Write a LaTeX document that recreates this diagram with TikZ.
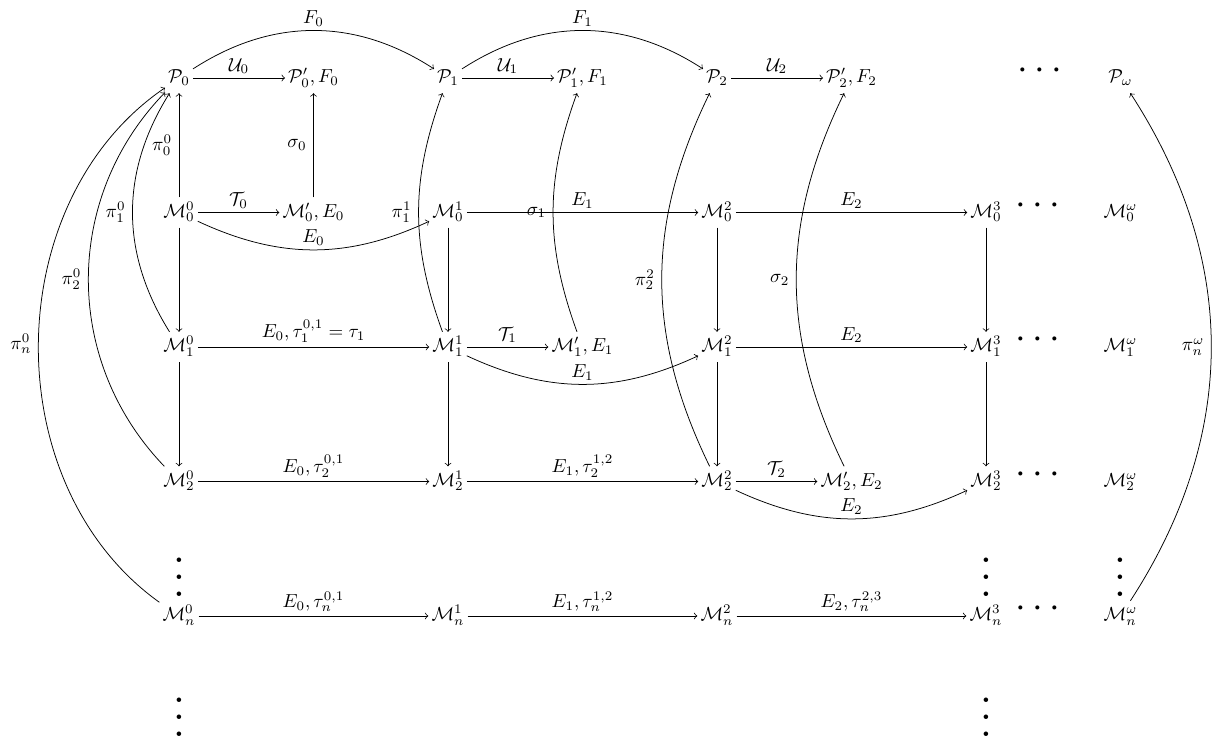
\documentclass[tikz,border=0pt]{standalone}
\usepackage{amsmath,amssymb}
\usepackage{graphicx}
\begin{document}
\begin{tikzpicture}[x=0.53pt,y=-0.53pt,
  obj/.style={inner xsep=1.5pt, inner ysep=3pt, text height=1.7ex, text depth=0.55ex},
  arr/.style={->, line width=0.4pt},
  lab/.style={inner sep=2pt},
  llab/.style={inner sep=3.5pt, left},
  hdots/.style={anchor=base, inner sep=0pt},
]
\useasboundingbox (0,0) rectangle (1225,742);
% row P
\node[obj] (P0)  at (179,78)    {$\mathcal{P}_0$};
\node[obj] (P0p) at (313.5,78)  {$\mathcal{P}'_0, F_0$};
\node[obj] (P1)  at (448,78)    {$\mathcal{P}_1$};
\node[obj] (P1p) at (582.5,78)  {$\mathcal{P}'_1, F_1$};
\node[obj] (P2)  at (717,78)    {$\mathcal{P}_2$};
\node[obj] (P2p) at (851.5,78)  {$\mathcal{P}'_2, F_2$};
\node[obj] (Pw)  at (1120.5,78) {$\mathcal{P}_\omega$};
% row M0
\node[obj] (M00) at (179,212.5)    {$\mathcal{M}^0_0$};
\node[obj] (M0p) at (313.5,212.5)  {$\mathcal{M}'_0, E_0$};
\node[obj] (M01) at (448,212.5)    {$\mathcal{M}^1_0$};
\node[obj] (M02) at (717,212.5)    {$\mathcal{M}^2_0$};
\node[obj] (M03) at (986,212.5)    {$\mathcal{M}^3_0$};
\node[obj] (M0w) at (1120.5,212.5) {$\mathcal{M}^\omega_0$};
% row M1
\node[obj] (M10) at (179,347)    {$\mathcal{M}^0_1$};
\node[obj] (M11) at (448,347)    {$\mathcal{M}^1_1$};
\node[obj] (M1p) at (582.5,347)  {$\mathcal{M}'_1, E_1$};
\node[obj] (M12) at (717,347)    {$\mathcal{M}^2_1$};
\node[obj] (M13) at (986,347)    {$\mathcal{M}^3_1$};
\node[obj] (M1w) at (1120.5,347) {$\mathcal{M}^\omega_1$};
% row M2
\node[obj] (M20) at (179,481.5)    {$\mathcal{M}^0_2$};
\node[obj] (M21) at (448,481.5)    {$\mathcal{M}^1_2$};
\node[obj] (M22) at (717,481.5)    {$\mathcal{M}^2_2$};
\node[obj] (M2p) at (851.5,481.5)  {$\mathcal{M}'_2, E_2$};
\node[obj] (M23) at (986,481.5)    {$\mathcal{M}^3_2$};
\node[obj] (M2w) at (1120.5,481.5) {$\mathcal{M}^\omega_2$};
% row Mn
\node[obj] (Mn0) at (179,616)    {$\mathcal{M}^0_n$};
\node[obj] (Mn1) at (448,616)    {$\mathcal{M}^1_n$};
\node[obj] (Mn2) at (717,616)    {$\mathcal{M}^2_n$};
\node[obj] (Mn3) at (986,616)    {$\mathcal{M}^3_n$};
\node[obj] (Mnw) at (1120.5,616) {$\mathcal{M}^\omega_n$};
% horizontal dots
\node[hdots] (dP) at (1043,79.5)  {\scalebox{2.03}{$\cdots$}};
\node[hdots] (d0) at (1041,214)   {\scalebox{2.03}{$\cdots$}};
\node[hdots] (d1) at (1041,348.5) {\scalebox{2.03}{$\cdots$}};
\node[hdots] (d2) at (1041,483)   {\scalebox{2.03}{$\cdots$}};
\node[hdots] (dn) at (1041,617.5) {\scalebox{2.03}{$\cdots$}};
% vertical dots
\node[hdots] (v0)  at (179,596.3)    {\scalebox{2.25}{$\vdots$}};
\node[hdots] (v3)  at (986,596.3)    {\scalebox{2.25}{$\vdots$}};
\node[hdots] (vw)  at (1120.5,596.3) {\scalebox{2.25}{$\vdots$}};
\node[hdots] (v0b) at (179,736.3)    {\scalebox{2.25}{$\vdots$}};
\node[hdots] (v3b) at (986,736.3)    {\scalebox{2.25}{$\vdots$}};
% top row arrows
\draw[arr] (P0) -- node[lab,above]{$\mathcal{U}_0$} (P0p);
\draw[arr] (P1) -- node[lab,above]{$\mathcal{U}_1$} (P1p);
\draw[arr] (P2) -- node[lab,above]{$\mathcal{U}_2$} (P2p);
\draw[arr] (P0) to[bend left=33] node[lab,above]{$F_0$} (P1);
\draw[arr] (P1) to[bend left=33] node[lab,above]{$F_1$} (P2);
% upward arrows
\draw[arr] (M00) -- node[llab]{$\pi^0_0$} (P0);
\draw[arr] (M0p) -- node[llab]{$\sigma_0$} (P0p);
\draw[arr] (M10) to[bend left=32] node[llab]{$\pi^0_1$} (P0);
\draw[arr] (M20) to[bend left=44] node[llab]{$\pi^0_2$} (P0);
\draw[arr] (Mn0) to[bend left=55] node[llab]{$\pi^0_n$} (P0);
\draw[arr] (M11) to[bend left=20] node[llab]{$\pi^1_1$} (P1);
\draw[arr] (M1p) to[bend left=20] node[llab]{$\sigma_1$} (P1p);
\draw[arr] (M22) to[bend left=26] node[llab]{$\pi^2_2$} (P2);
\draw[arr] (M2p) to[bend left=26] node[llab]{$\sigma_2$} (P2p);
\draw[arr] (Mnw) to[bend right=33] node[llab]{$\pi^\omega_n$} (Pw);
% row M0
\draw[arr] (M00) -- node[lab,above]{$\mathcal{T}_0$} (M0p);
\draw[arr] (M00) to[bend right=25] node[lab,above]{$E_0$} (M01);
\draw[arr] (M01) -- node[lab,above]{$E_1$} (M02);
\draw[arr] (M02) -- node[lab,above]{$E_2$} (M03);
% downward arrows
\draw[arr] (M00) -- (M10);
\draw[arr] (M10) -- (M20);
\draw[arr] (M01) -- (M11);
\draw[arr] (M11) -- (M21);
\draw[arr] (M02) -- (M12);
\draw[arr] (M12) -- (M22);
\draw[arr] (M03) -- (M13);
\draw[arr] (M13) -- (M23);
% row M1
\draw[arr] (M10) -- node[lab,above]{$E_0, \tau^{0,1}_1 = \tau_1$} (M11);
\draw[arr] (M11) -- node[lab,above]{$\mathcal{T}_1$} (M1p);
\draw[arr] (M11) to[bend right=25] node[lab,above]{$E_1$} (M12);
\draw[arr] (M12) -- node[lab,above]{$E_2$} (M13);
% row M2
\draw[arr] (M20) -- node[lab,above]{$E_0, \tau^{0,1}_2$} (M21);
\draw[arr] (M21) -- node[lab,above]{$E_1, \tau^{1,2}_2$} (M22);
\draw[arr] (M22) -- node[lab,above]{$\mathcal{T}_2$} (M2p);
\draw[arr] (M22) to[bend right=25] node[lab,above]{$E_2$} (M23);
% row Mn
\draw[arr] (Mn0) -- node[lab,above]{$E_0, \tau^{0,1}_n$} (Mn1);
\draw[arr] (Mn1) -- node[lab,above]{$E_1, \tau^{1,2}_n$} (Mn2);
\draw[arr] (Mn2) -- node[lab,above]{$E_2, \tau^{2,3}_n$} (Mn3);
\end{tikzpicture}
\end{document}
